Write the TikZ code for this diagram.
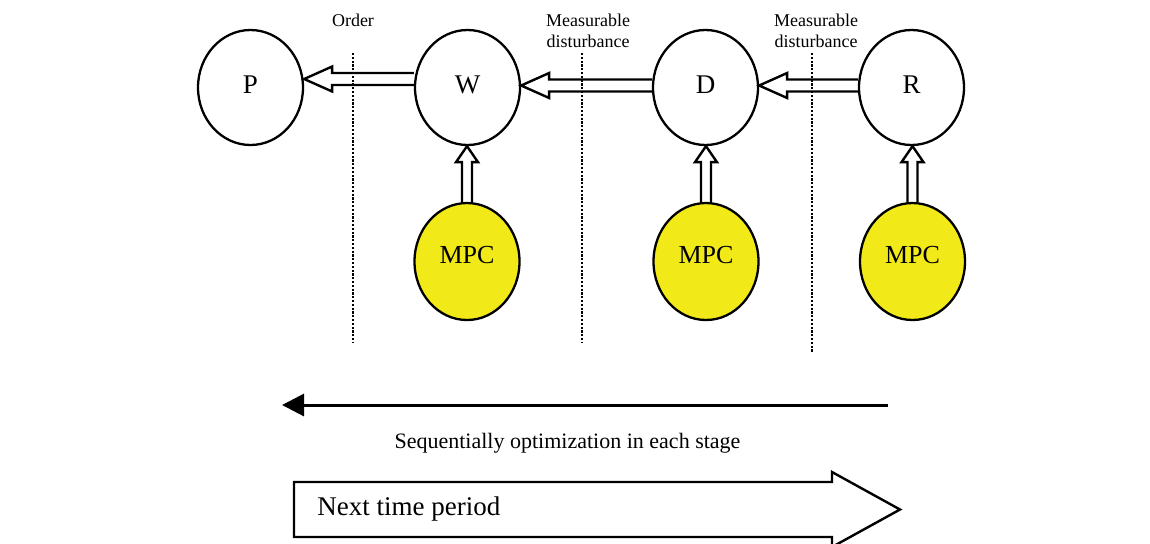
\documentclass[tikz,border=0pt]{standalone}
\usepackage{fontspec}
\setmainfont{Liberation Serif}
\usetikzlibrary{shapes.geometric,arrows.meta,calc}
\definecolor{mpcyellow}{RGB}{242,234,24}
\newcommand{\hblock}[3]{\draw[blk] let \p1=($(#1.west)+(0,#3)$), \p2=(#2.east) in
  (\x1,\y1+3pt) -- (\x2+14pt,\y1+3pt) -- (\x2+14pt,\y1+6.25pt) -- (\x2,\y1)
  -- (\x2+14pt,\y1-6.25pt) -- (\x2+14pt,\y1-3pt) -- (\x1,\y1-3pt);}
\newcommand{\vblock}[2]{\draw[blk] let \p1=(#1.north), \p2=(#2.south) in
  (\x1-2.5pt,\y1) -- (\x1-2.5pt,\y2-8pt) -- (\x1-5.5pt,\y2-8pt) -- (\x1,\y2)
  -- (\x1+5.5pt,\y2-8pt) -- (\x1+2.5pt,\y2-8pt) -- (\x1+2.5pt,\y1);}
\begin{document}
\begin{tikzpicture}[x=0.5pt,y=-0.5pt,
  stage/.style={ellipse,draw,line width=1.15pt,minimum width=52.5pt,minimum height=57.5pt,
    inner sep=0pt,font=\fontsize{13.5}{15}\selectfont,text depth=3pt},
  mpc/.style={stage,fill=mpcyellow,minimum height=58.5pt,text depth=7pt,font=\fontsize{13}{15}\selectfont},
  blk/.style={draw,line width=1.2pt,line join=miter},
  lbl/.style={font=\fontsize{9}{10.5}\selectfont,align=center,inner sep=0pt},
  sepline/.style={line width=1.3pt,dash pattern=on 1.1pt off 0.8pt}]
\useasboundingbox (0,0) rectangle (1150,543);
% stages
\node[stage] (P) at (250.5,87.5) {P};
\node[stage] (W) at (467.5,87.5) {W};
\node[stage] (D) at (705.5,87.5) {D};
\node[stage] (R) at (911.5,87.5) {R};
\node[mpc] (M1) at (467,261.5) {MPC};
\node[mpc] (M2) at (706,261.5) {MPC};
\node[mpc] (M3) at (912.5,261.5) {MPC};
% block arrows
\hblock{W}{P}{-8.5}
\hblock{D}{W}{-2}
\hblock{R}{D}{-2}
\vblock{M1}{W}
\vblock{M2}{D}
\vblock{M3}{R}
% dotted separators
\draw[sepline] (353,53) -- (353,343);
\draw[sepline] (582,53) -- (582,343);
\draw[sepline] (812,53) -- (812,353);
% labels
\node[lbl,anchor=base] (order) at (353,26) {Order};
\node[lbl,anchor=north] (md1) at (588,13.5) {Measurable\\disturbance};
\node[lbl,anchor=north] (md2) at (816,13.5) {Measurable\\disturbance};
% optimisation arrow
\coordinate (optR) at (888,405);
\coordinate (optL) at (282,405);
\draw[line width=1.5pt,-{Triangle[length=11pt,width=11pt]}] (optR) -- (optL);
\node[font=\fontsize{11}{13}\selectfont,anchor=base,inner sep=0pt] (seq) at (567.5,448)
  {Sequentially optimization in each stage};
% next time period
\draw[line width=1.2pt,line join=miter] (294,482) -- (832,482) -- (832,472) -- (900,509.5)
  -- (832,547) -- (832,537) -- (294,537) -- cycle;
\node[font=\fontsize{13.5}{16}\selectfont,anchor=base west,inner sep=0pt] (next) at (317,515)
  {Next time period};
\end{tikzpicture}
\end{document}
